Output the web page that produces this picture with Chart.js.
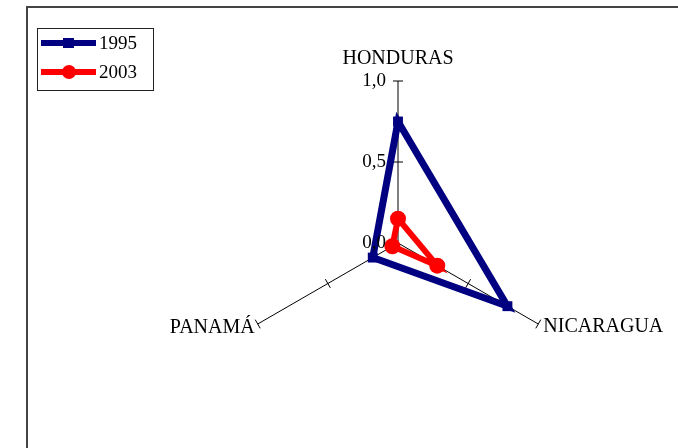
<!DOCTYPE html>
<html>
<head>
<meta charset="utf-8">
<script src="https://cdn.jsdelivr.net/npm/chart.js@4"></script>
<style>
  body { margin: 0; background: #fff; }
  canvas { display: block; }
</style>
</head>
<body>
<canvas id="radar" width="678" height="448"></canvas>
<script>
// Radar data
const countries = ['HONDURAS', 'NICARAGUA', 'PANAMÁ'];
const values1995 = [0.75, 0.78, 0.18];
const values2003 = [0.15, 0.28, 0.04];
const tickValues = [0, 0.5, 1];
const tickLabels = ['0,0', '0,5', '1,0'];
const seriesNames = ['1995', '2003'];

const FONT = '19px "Liberation Serif", "Times New Roman", serif';
const LABEL_FONT = '20px "Liberation Serif", "Times New Roman", serif';

// axis ticks, tick labels, point labels, legend and frame drawn by hand
const excelLook = {
    id: 'excelLook',
    beforeDatasetsDraw(chart) {
        const ctx = chart.ctx;
        const r = chart.scales.r;
        ctx.save();
        ctx.strokeStyle = '#000';
        ctx.lineWidth = 1;
        countries.forEach((c, i) => {
            const a = r.getIndexAngle(i);
            const px = Math.cos(a), py = Math.sin(a);
            tickValues.forEach(v => {
                if (v === 0) return;
                const p = r.getPointPositionForValue(i, v);
                ctx.beginPath();
                ctx.moveTo(p.x - px * 5, p.y - py * 5);
                ctx.lineTo(p.x + px * 5, p.y + py * 5);
                ctx.stroke();
            });
        });
        ctx.restore();
    },
    afterDraw(chart) {
        const ctx = chart.ctx;
        const r = chart.scales.r;
        ctx.save();
        ctx.font = FONT;
        ctx.fillStyle = '#000';
        ctx.textBaseline = 'middle';

        // tick labels on the first axis
        ctx.textAlign = 'right';
        tickValues.forEach((v, k) => {
            const p = r.getPointPositionForValue(0, v);
            ctx.fillText(tickLabels[k], p.x - 12, p.y);
        });

        // category labels at the axis ends
        ctx.font = LABEL_FONT;
        countries.forEach((c, i) => {
            const p = r.getPointPositionForValue(i, r.max);
            if (i === 0) {
                ctx.textAlign = 'center';
                ctx.fillText(c, p.x, p.y - 22);
            } else if (p.x > r.xCenter) {
                ctx.textAlign = 'left';
                ctx.fillText(c, p.x + 5, p.y + 3);
            } else {
                ctx.textAlign = 'right';
                ctx.fillText(c, p.x - 3, p.y + 4);
            }
        });

        // chart frame (left + top edges)
        ctx.strokeStyle = '#444';
        ctx.lineWidth = 2;
        ctx.beginPath();
        ctx.moveTo(27, 448);
        ctx.lineTo(27, 7);
        ctx.lineTo(678, 7);
        ctx.stroke();

        // legend box
        ctx.font = FONT;
        ctx.strokeStyle = '#222';
        ctx.lineWidth = 1;
        ctx.strokeRect(37.5, 28.5, 116, 62);
        ctx.textAlign = 'left';
        chart.data.datasets.forEach((ds, k) => {
            const y = 43 + k * 29;
            ctx.strokeStyle = ds.borderColor;
            ctx.lineWidth = 6;
            ctx.beginPath();
            ctx.moveTo(41, y);
            ctx.lineTo(96, y);
            ctx.stroke();
            ctx.fillStyle = ds.borderColor;
            if (ds.pointStyle === 'rect') {
                ctx.fillRect(63, y - 5, 11, 10);
            } else {
                ctx.beginPath();
                ctx.arc(69, y, 7, 0, Math.PI * 2);
                ctx.fill();
            }
            ctx.fillStyle = '#000';
            ctx.fillText(ds.label, 99, y + 1);
        });
        ctx.restore();
    }
};

new Chart(document.getElementById('radar'), {
    type: 'radar',
    data: {
        labels: countries,
        datasets: [{
            label: seriesNames[0],
            data: values1995,
            borderColor: '#000080',
            backgroundColor: '#000080',
            borderWidth: 7,
            fill: false,
            pointStyle: 'rect',
            pointRadius: 7,
            pointBorderWidth: 0,
            order: 1
        }, {
            label: seriesNames[1],
            data: values2003,
            borderColor: '#ff0000',
            backgroundColor: '#ff0000',
            borderWidth: 6,
            fill: false,
            pointStyle: 'circle',
            pointRadius: 8,
            pointBorderWidth: 0,
            order: 0
        }]
    },
    options: {
        responsive: false,
        devicePixelRatio: 1,
        animation: false,
        layout: { padding: { left: 236, right: 118, top: 81, bottom: 43 } },
        scales: {
            r: {
                min: 0,
                max: 1,
                ticks: { display: false, stepSize: 0.5 },
                grid: { display: false },
                angleLines: { display: true, color: '#000', lineWidth: 1 },
                pointLabels: { display: false }
            }
        },
        plugins: {
            legend: { display: false },
            tooltip: { enabled: false }
        },
        elements: { line: { tension: 0 } }
    },
    plugins: [excelLook]
});
</script>
</body>
</html>
